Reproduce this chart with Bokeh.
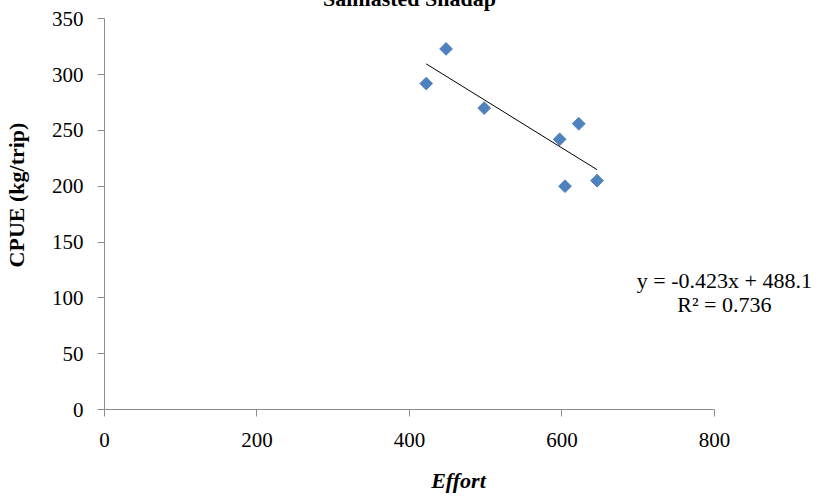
import math
from bokeh.plotting import figure
from bokeh.models import Label, Range1d, FixedTicker
from bokeh.embed import file_html
from bokeh.resources import INLINE

# data
effort = [422, 448, 498, 597, 622, 604, 646]
cpue = [292, 323, 270, 242, 256, 200, 205]
slope = -0.423
intercept = 488.1
r2 = 0.736
x_ticks = [0, 200, 400, 600, 800]
y_ticks = [0, 50, 100, 150, 200, 250, 300, 350]
title_text = "Salmasted Shadap"

FONT = "Liberation Serif"
AXIS_COLOR = "#8c8c8c"

p = figure(width=812, height=519, output_backend="svg", toolbar_location=None,
           x_range=Range1d(0, 928.6), y_range=Range1d(0, 384.3),
           min_border_left=97, min_border_right=0, min_border_top=0,
           min_border_bottom=90)
p.styles = {"margin-top": "-20px"}
p.outline_line_color = None
p.xgrid.visible = False
p.ygrid.visible = False

for ax in (p.xaxis[0], p.yaxis[0]):
    ax.axis_line_color = AXIS_COLOR
    ax.major_tick_line_color = AXIS_COLOR
    ax.minor_tick_line_color = None
    ax.major_tick_in = 0
    ax.major_tick_out = 7
    ax.major_label_text_font = FONT
    ax.major_label_text_font_size = "21px"
    ax.major_label_text_color = "#000000"
    ax.axis_label_text_font = FONT
    ax.axis_label_text_font_size = "22px"
    ax.axis_label_text_color = "#000000"

p.xaxis.bounds = (x_ticks[0], x_ticks[-1])
p.yaxis.bounds = (y_ticks[0], y_ticks[-1])
p.xaxis.ticker = FixedTicker(ticks=x_ticks)
p.yaxis.ticker = FixedTicker(ticks=y_ticks)
p.xaxis.axis_label = "Effort"
p.xaxis.axis_label_text_font_style = "bold italic"
p.xaxis.major_label_standoff = 16
p.xaxis.axis_label_standoff = 18
p.yaxis.axis_label = "CPUE (kg/trip)"
p.yaxis.axis_label_text_font_style = "bold"
p.yaxis.major_label_standoff = 14
p.yaxis.axis_label_standoff = 20

p.scatter(effort, cpue, marker="square", size=9, angle=math.pi / 4,
          fill_color="#4F81BD", line_color="#4F81BD")

x0, x1 = min(effort), max(effort)
p.line([x0, x1], [slope * x0 + intercept, slope * x1 + intercept],
       line_color="#000000", line_width=1)

eq1 = f"y = {slope}x + {intercept}"
eq2 = f"R² = {r2}"
p.add_layout(Label(x=813, y=116, text=eq1, text_align="center",
                   text_baseline="middle", text_font=FONT,
                   text_font_size="22px", text_color="#000000"))
p.add_layout(Label(x=813, y=94, text=eq2, text_align="center",
                   text_baseline="middle", text_font=FONT,
                   text_font_size="22px", text_color="#000000"))
p.add_layout(Label(x=400, y=368.5, text=title_text, text_align="center",
                   text_baseline="alphabetic", text_font=FONT,
                   text_font_style="bold",
                   text_font_size="22px", text_color="#000000"))

open("out.html", "w").write(file_html(p, INLINE))
